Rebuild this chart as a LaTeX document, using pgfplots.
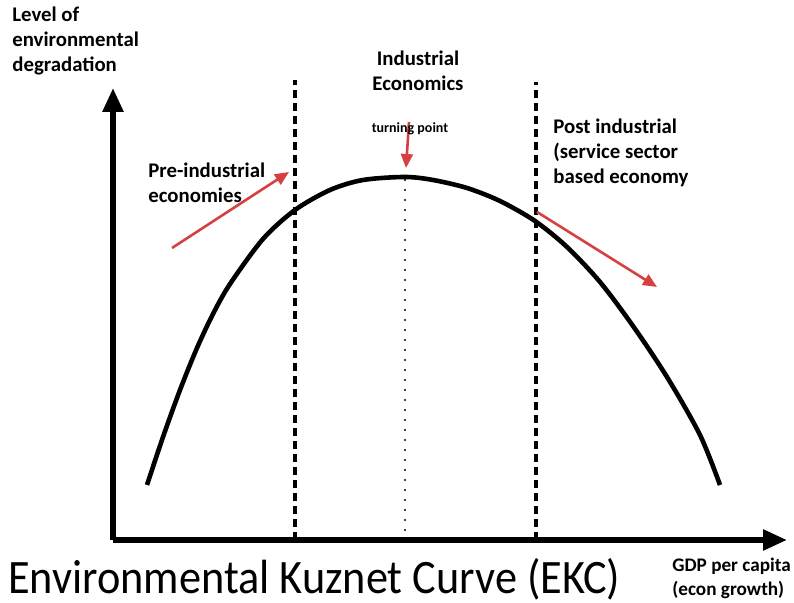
\documentclass[border=0pt]{standalone}
\usepackage{fontspec}
\setmainfont{Carlito}
\usepackage{graphicx}
\usepackage{pgfplots}
\pgfplotsset{compat=1.18}
\usetikzlibrary{arrows.meta}
\definecolor{arrowred}{RGB}{214,64,64}

\begin{document}
\begin{tikzpicture}
\begin{axis}[
  scale only axis,
  width=337pt, height=226pt,
  xmin=113, xmax=787, ymin=0, ymax=452,
  axis lines=left,
  axis line style={line width=2.8pt, -{Triangle[length=12pt,width=10pt]}},
  xtick=\empty, ytick=\empty,
  clip=false,
]
% EKC curve (pixel-based coordinates, y measured up from the x axis)
\addplot[black, line width=2.3pt, smooth] coordinates {
 (147,55)(163,103)(180,150)(197,192)(213,226)(230,256)(263,301)(295,330)
 (330,350)(363,360)(405,363)(433,360)(467,352)(500,339)(535,319)
 (567,293)(600,258)(633,214)(667,163)(700,105)(720,55)
};
% stage boundaries
\addplot[black, line width=1.6pt, dash pattern=on 4pt off 2.5pt] coordinates {(295,0)(295,460)};
\addplot[black, line width=1.6pt, dash pattern=on 4pt off 2.5pt] coordinates {(536,0)(536,458)};
\addplot[black, line width=1.2pt, line cap=round, dash pattern=on 0pt off 5pt] coordinates {(405,0)(405,363)};
% red arrows
\addplot[arrowred, line width=1.3pt, -{Triangle[length=7pt,width=6pt]}] coordinates {(172,292)(289,368)};
\addplot[arrowred, line width=1.3pt, -{Triangle[length=7pt,width=6pt]}] coordinates {(409,418)(406,372)};
\addplot[arrowred, line width=1.3pt, -{Triangle[length=7pt,width=6pt]}] coordinates {(537,328)(657,253)};

% labels
\node[anchor=north west, align=left, inner sep=0pt, font=\fontsize{10.4}{12.5}\selectfont\bfseries]
  at (axis cs:12,533) {Level of\\environmental\\degradation};
\node[align=center, inner sep=0pt, font=\fontsize{10.4}{12.5}\selectfont\bfseries]
  at (axis cs:418,469.5) {Industrial\\Economics};
\node[inner sep=0pt, font=\fontsize{7}{8}\selectfont\bfseries]
  at (axis cs:410,411) {turning point};
\node[anchor=west, align=left, inner sep=0pt, font=\fontsize{10.4}{12.5}\selectfont\bfseries]
  at (axis cs:148,357.5) {Pre-industrial\\economies};
\node[anchor=west, align=left, inner sep=0pt, font=\fontsize{10.4}{12.5}\selectfont\bfseries]
  at (axis cs:553,387) {Post industrial\\(service sector\\based economy};
\node[anchor=west, align=left, inner sep=0pt, font=\fontsize{9.6}{12}\selectfont\bfseries]
  at (axis cs:672,-38) {GDP per capita\\(econ growth)};
\node[anchor=west, inner sep=0pt]
  at (axis cs:8,-39) {\resizebox{306pt}{\height}{\fontsize{24}{28}\selectfont Environmental Kuznet Curve (EKC)}};

\path (axis cs:0,-63) rectangle (axis cs:794,540);
\end{axis}
\end{tikzpicture}
\end{document}
